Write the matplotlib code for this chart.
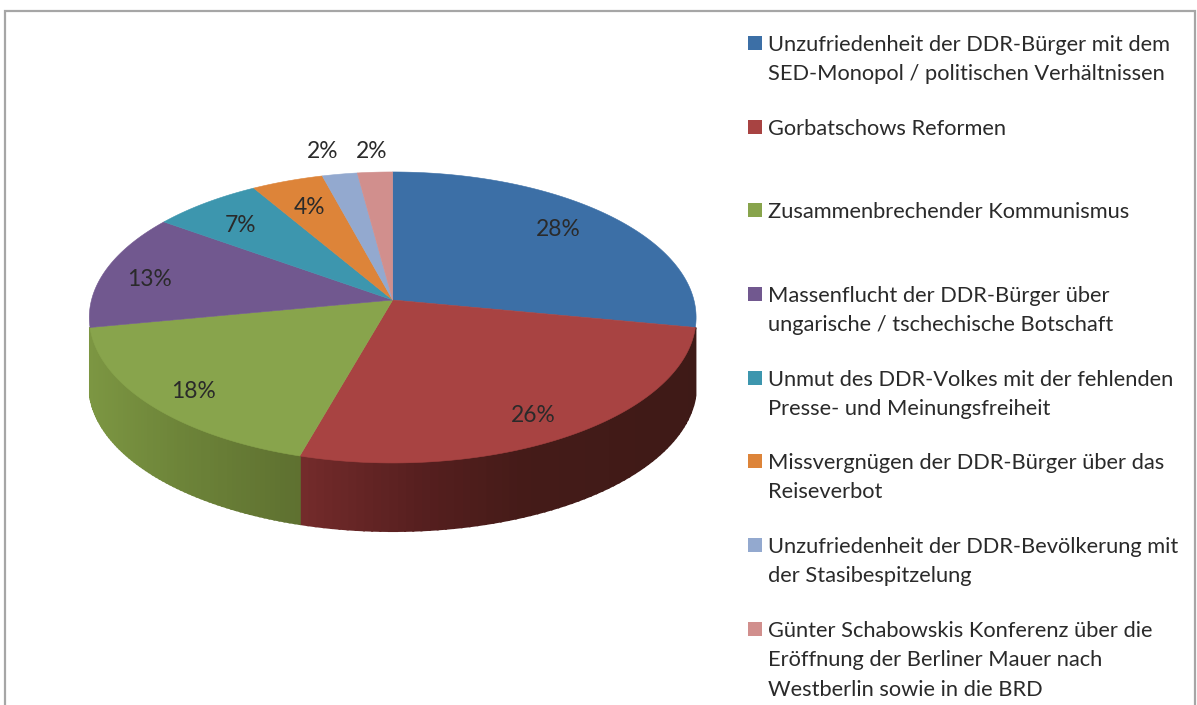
import numpy as np
import matplotlib
matplotlib.use('Agg')
import matplotlib.pyplot as plt
from matplotlib.colors import to_rgb

plt.rcParams['font.family'] = ['Lato', 'DejaVu Sans']

# Anteile der Tortenstuecke in Prozent
values = [28.0, 26.4, 17.6, 12.9, 6.6, 4.3, 2.1, 2.1]
legend_lines = [
    ['Unzufriedenheit der DDR-Bürger mit dem', 'SED-Monopol / politischen Verhältnissen'],
    ['Gorbatschows Reformen'],
    ['Zusammenbrechender Kommunismus'],
    ['Massenflucht der DDR-Bürger über', 'ungarische / tschechische Botschaft'],
    ['Unmut des DDR-Volkes mit der fehlenden', 'Presse- und Meinungsfreiheit'],
    ['Missvergnügen der DDR-Bürger über das', 'Reiseverbot'],
    ['Unzufriedenheit der DDR-Bevölkerung mit', 'der Stasibespitzelung'],
    ['Günter Schabowskis Konferenz über die', 'Eröffnung der Berliner Mauer nach', 'Westberlin sowie in die BRD'],
]
colors = ['#3c6fa6', '#a84342', '#88a44c', '#71588f', '#3d96ae', '#dd8439', '#93a9cf', '#d18f8d']

# Layout in Pixeln
cx, cy = 392.7, 300
a, b, k = 301.2, 143.4, 0.12
depth = 68
label_xy = [(558, 230), (533, 416), (193, 392), (149, 279), (240, 225), (309, 207), (323, 152), (372, 152)]
legend_y = [43, 127, 210, 294, 378, 461, 545, 629]
line_h = 29.4
font_size = 15.75


def project(theta):
    # Kreis mit Perspektive: theta im Uhrzeigersinn von oben
    x, y = np.sin(theta), np.cos(theta)
    w = 1 + k * y
    return cx + a * x / w, cy - b * y / w


fig = plt.figure(figsize=(11.97, 7.05), dpi=100)
ax = fig.add_axes([0, 0, 1, 1])
ax.set_xlim(0, 1197)
ax.set_ylim(705, 0)
ax.axis('off')

# Rahmen (unten abgeschnitten)
ax.plot([5, 5, 1195, 1195], [705, 11, 11, 705], color='#a6a6a6', lw=1.6, solid_joinstyle='miter')

edges = np.radians(np.concatenate([[0], np.cumsum(values)]) * 3.6)

# Seitenwand mit Verlauf, rot und gruen sind die einzigen sichtbaren Teile
wall_ramps = [
    (1, [(300, '#742b2b'), (420, '#561f1f'), (520, '#451b18'), (700, '#3e1a17')]),
    (2, [(90, '#7c9642'), (180, '#6d8439'), (302, '#5e7030')]),
]
for i, ramp in wall_ramps:
    th = np.linspace(edges[i], edges[i + 1], 70)
    xs, ys = project(th)
    ramp_x = [r[0] for r in ramp]
    ramp_c = np.array([to_rgb(r[1]) for r in ramp])
    for j in range(len(th) - 1):
        xm = (xs[j] + xs[j + 1]) / 2
        c = [np.interp(xm, ramp_x, ramp_c[:, n]) for n in range(3)]
        # breite Kante, damit zwischen den Streifen keine Luecken bleiben
        ax.fill([xs[j], xs[j + 1], xs[j + 1], xs[j]],
                [ys[j], ys[j + 1], ys[j + 1] + depth, ys[j] + depth],
                color=c, lw=1.5, zorder=2)

# Deckel
for i, col in enumerate(colors):
    th = np.linspace(edges[i], edges[i + 1], 120)
    xs, ys = project(th)
    ax.fill(np.r_[cx, xs], np.r_[cy, ys], color=col, lw=0.4, zorder=3)

for v, (x, y) in zip(values, label_xy):
    ax.text(x, y, f'{v:.0f}%', ha='center', va='center', fontsize=font_size + 0.6,
            color='#2a2a2a', zorder=5)

# Legende
for lines, col, y in zip(legend_lines, colors, legend_y):
    ax.fill([748, 762, 762, 748], [y - 7, y - 7, y + 7, y + 7], color=col, lw=0)
    for n, line in enumerate(lines):
        ax.text(768, y + 8 + n * line_h, line, ha='left', va='baseline',
                fontsize=font_size, color='#2a2a2a')

fig.savefig('out.png', dpi=100)
